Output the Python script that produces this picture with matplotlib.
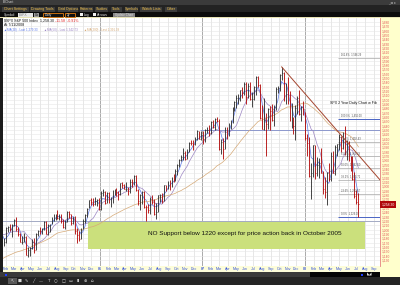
import numpy as np
import pandas as pd
import matplotlib
matplotlib.use('Agg')
import matplotlib.pyplot as plt
from matplotlib.patches import Rectangle
from matplotlib.transforms import blended_transform_factory

# weekly closes before the visible window (only used to warm up the averages)
pre_close = [1134, 1140, 1107, 1098, 1076, 1089, 1095, 1120, 1122, 1136, 1132, 1134,
             1141, 1125, 1112, 1101, 1089, 1101, 1063, 1064, 1098, 1107, 1113, 1113,
             1123, 1128, 1110, 1114, 1122, 1108, 1108, 1095, 1130, 1166, 1185, 1171,
             1182, 1191, 1189, 1194, 1210, 1212, 1186, 1184, 1167]

# weekly bars, week ending 2005-01-28 .. 2008-07-11
wk_high = [1180, 1205, 1208, 1212, 1212, 1224, 1229, 1206, 1192, 1185, 1192, 1185,
           1160, 1160, 1178, 1180, 1192, 1199, 1205, 1203, 1219, 1219, 1212, 1213,
           1229, 1237, 1237, 1245, 1237, 1235, 1224, 1222, 1243, 1242, 1237, 1230,
           1232, 1204, 1198, 1204, 1224, 1235, 1249, 1268, 1273, 1272, 1275, 1270, 1272,
           1290, 1294, 1289, 1287, 1286, 1276, 1291, 1294, 1297, 1289, 1308, 1310,
           1306, 1310, 1298, 1318, 1316, 1326, 1327, 1294, 1283, 1290, 1290, 1258,
           1259, 1276, 1280, 1270, 1262, 1280, 1283, 1284, 1303, 1303, 1312, 1315,
           1322, 1328, 1340, 1352, 1364, 1372, 1389, 1381, 1386, 1403, 1407, 1406,
           1415, 1430, 1429, 1427,
           1429, 1432, 1437, 1441, 1450, 1453, 1457, 1461, 1456, 1410, 1411, 1438,
           1437, 1446, 1453, 1484, 1498, 1510, 1513, 1522, 1529, 1540, 1540, 1538,
           1540, 1518, 1532, 1555, 1556, 1536, 1488, 1504, 1470, 1482, 1485, 1490,
           1488, 1530, 1533, 1560, 1576, 1565, 1539, 1553, 1520, 1492, 1460, 1488,
           1508, 1523, 1485, 1498,
           1471, 1421, 1415, 1355, 1396, 1395, 1368, 1366, 1388, 1336, 1321, 1334,
           1353, 1380, 1381, 1395, 1399, 1422, 1416, 1426, 1440, 1406, 1404, 1370,
           1370, 1333, 1292, 1285]
wk_low = [1163, 1170, 1195, 1198, 1184, 1208, 1198, 1185, 1171, 1166, 1171, 1141,
          1137, 1140, 1156, 1146, 1154, 1185, 1191, 1191, 1200, 1189, 1188, 1195,
          1212, 1220, 1223, 1225, 1222, 1216, 1204, 1201, 1218, 1228, 1210, 1212,
          1190, 1168, 1174, 1178, 1202, 1216, 1230, 1250, 1258, 1255, 1258, 1255, 1246,
          1245, 1278, 1260, 1261, 1261, 1253, 1261, 1281, 1278, 1268, 1280, 1296,
          1293, 1290, 1280, 1285, 1298, 1302, 1290, 1256, 1245, 1260, 1250, 1219,
          1238, 1235, 1260, 1234, 1224, 1240, 1265, 1262, 1266, 1289, 1294, 1292,
          1298, 1310, 1313, 1327, 1345, 1358, 1362, 1360, 1364, 1379, 1396, 1383,
          1396, 1406, 1410, 1408,
          1397, 1403, 1424, 1416, 1420, 1436, 1431, 1448, 1384, 1374, 1364, 1386,
          1410, 1417, 1433, 1447, 1474, 1480, 1490, 1498, 1505, 1510, 1490, 1505,
          1500, 1484, 1500, 1512, 1530, 1455, 1432, 1430, 1370, 1433, 1430, 1452,
          1440, 1476, 1516, 1520, 1546, 1497, 1490, 1491, 1450, 1435, 1420, 1406,
          1468, 1466, 1452, 1466,
          1406, 1370, 1322, 1270, 1322, 1317, 1325, 1320, 1330, 1282, 1272, 1256,
          1312, 1312, 1330, 1326, 1370, 1383, 1379, 1386, 1373, 1362, 1358, 1335,
          1315, 1272, 1260, 1229]
wk_close = [1171, 1203, 1205, 1201, 1211, 1222, 1201, 1190, 1172, 1172, 1182, 1142,
            1152, 1157, 1172, 1154, 1189, 1198, 1196, 1201, 1217, 1191, 1211, 1212,
            1228, 1233, 1234, 1226, 1230, 1220, 1205, 1218, 1241, 1237, 1215, 1229,
            1196, 1187, 1179, 1199, 1220, 1234, 1248, 1268, 1265, 1259, 1267, 1268, 1248,
            1285, 1287, 1261, 1284, 1264, 1267, 1287, 1289, 1287, 1282, 1307, 1302,
            1295, 1295, 1289, 1311, 1310, 1325, 1292, 1267, 1280, 1288, 1253, 1252,
            1245, 1270, 1265, 1236, 1240, 1279, 1280, 1266, 1302, 1296, 1311, 1299,
            1320, 1314, 1336, 1350, 1362, 1368, 1378, 1364, 1380, 1401, 1400, 1397,
            1409, 1427, 1410, 1418,
            1409, 1430, 1431, 1423, 1449, 1438, 1456, 1451, 1387, 1402, 1386, 1436,
            1421, 1443, 1452, 1484, 1494, 1505, 1505, 1522, 1515, 1536, 1507, 1533,
            1502, 1503, 1530, 1552, 1534, 1458, 1433, 1453, 1445, 1479, 1474, 1453,
            1484, 1525, 1527, 1557, 1561, 1500, 1535, 1509, 1453, 1458, 1440, 1481,
            1504, 1467, 1484, 1478,
            1411, 1401, 1325, 1330, 1395, 1331, 1349, 1353, 1331, 1294, 1288, 1330,
            1316, 1370, 1332, 1390, 1398, 1414, 1388, 1426, 1375, 1400, 1361, 1360,
            1318, 1278, 1263, 1258.30]

ma_weeks = [4, 10, 40]          # ~20, 50 and 200 trading days
ma_names = ['MA(20)', 'MA(50)', 'MA(200)']
ma_colors = ['#5b78e8', '#9c86c4', '#d6aa78']

support = 1220
support_start = '2005-01-01'
resist = 1430
resist_start = '2006-12-22'
fib_hi, fib_lo = 1456, 1229
fib_levels = [0.0, 23.6, 38.2, 50.0, 61.8, 76.4, 100.0, 161.8]
fib_start = '2008-04-27'
trend_end = ('2008-09-24', 1315)
box_x = ('2005-11-19', '2008-08-01')
box_y = (1155, 1220)

W, H = 400, 285
fig = plt.figure(figsize=(W / 100, H / 100), dpi=100)
plt.rcParams['font.family'] = ['Liberation Sans', 'DejaVu Sans']


def fx(x):
    return x / W


def fy(y):
    return 1 - y / H


def box(x, y, w, h, color, **kw):
    fig.add_artist(Rectangle((fx(x), fy(y + h)), w / W, h / H, transform=fig.transFigure,
                             fc=color, ec=kw.pop('ec', 'none'), lw=kw.pop('lw', 0.5),
                             zorder=kw.pop('zorder', -5), **kw))


def ftext(x, y, s, **kw):
    fig.text(fx(x), fy(y), s, va='center', **kw)


# window chrome
box(0, 0, 400, 5, '#3b3b3b')
box(0, 5, 400, 8, '#232323')
box(0, 12, 400, 6, '#0c0c0c')
box(0, 17, 400, 1.2, '#e8e3b4')
box(0, 18, 3, 254, '#1b1b1b')
box(380, 18, 20, 259, '#ffffcc')
box(3, 266, 377, 6, '#fdfdda')
box(0, 272, 310, 5, '#3a3a3a')
box(310, 272, 70, 5, '#050505')
box(0, 277, 400, 8, '#242424')
box(5, 273.5, 2, 2, '#2040ff')
box(361, 273.5, 2, 2, '#2040ff')
box(8, 278, 9, 6, '#585858')
ftext(3, 2.4, 'IBChart', fontsize=2.4, color='#d0d0d0')
ftext(388, 2.4, '_ \u25a1 x', fontsize=2.4, color='#d0d0d0')

menu = [('Chart Settings', 2, 27), ('Drawing Tools', 30, 25), ('Grid Options', 58, 20),
        ('Patterns', 80, 13), ('Studies', 95, 13), ('Tools', 111, 11),
        ('Symbols', 125, 13), ('Watch Lists', 140, 22), ('Other', 165, 12)]
for name, x0, w in menu:
    box(x0, 6.5, w, 5, '#3c3c3c', zorder=-4)
    ftext(x0 + w / 2, 9, name, fontsize=2.6, color='#f2c14a', ha='center')

ftext(4, 14.8, 'Symbol:', fontsize=2.4, color='#e0e0e0')
box(18, 13, 15, 3.8, '#e8e8e8', zorder=-4)
ftext(19, 14.8, '\\$SPX', fontsize=2.4, color='#777777')
box(34, 13, 5, 3.8, '#9a9a9a', zorder=-4)
ftext(36.5, 14.8, 'Go', fontsize=2.2, color='#111111', ha='center')
box(43, 13, 20, 3.8, '#111111', ec='#e07a10', lw=0.6, zorder=-4)
ftext(45, 14.8, 'Daily', fontsize=2.3, color='#e0e0e0')
box(65, 13, 10, 3.8, '#111111', ec='#e07a10', lw=0.6, zorder=-4)
ftext(67, 14.8, '2y', fontsize=2.3, color='#e0e0e0')
box(80, 13.3, 3, 3, '#f0f0f0', zorder=-4)
ftext(84, 14.8, 'Log', fontsize=2.5, color='#e0e0e0')
box(93, 13.3, 3, 3, '#f0f0f0', zorder=-4)
ftext(97, 14.8, 'Arrows', fontsize=2.5, color='#e0e0e0')
box(113, 13, 22, 3.8, '#8a8a8a', zorder=-4)
ftext(124, 14.8, 'Update Chart', fontsize=2.2, color='#dddddd', ha='center')

icons = ['\u2196', '\u25a0', '\u270e', '\u2571', '\u2014', 'T', '\u25cb', '\u25a1',
         '\u25ad', '\u25ae', '\u2295', '\u2302']
for i, ic in enumerate(icons):
    ftext(12 + i * 7.3, 281, ic, fontsize=3, color='#d8d8d8', ha='center', family='DejaVu Sans')
ftext(367, 274.7, '\u25e3\u25e2', fontsize=2.6, color='#dddddd', family='DejaVu Sans')

# price panel
ax = fig.add_axes([fx(3), fy(266), (380 - 3) / W, (266 - 18) / H])
ax.set_facecolor('white')

all_close = pd.Series(pre_close + wk_close, dtype=float)
all_dates = pd.date_range(end='2008-07-11', periods=len(all_close), freq='W-FRI') - pd.Timedelta(days=2)
n0 = len(pre_close)
dates = all_dates[n0:]
close = np.array(wk_close, dtype=float)
prev = all_close.shift(1).to_numpy()[n0:]
up = close >= prev
bar_col = np.where(up, '#262626', '#b00000')

ax.vlines(dates, wk_low, wk_high, colors=bar_col, lw=0.6, zorder=4)
ax.hlines(close, dates, dates + pd.Timedelta(days=3), colors=bar_col, lw=0.45, zorder=4)

last_ma = []
for wks, col in zip(ma_weeks, ma_colors):
    ma = all_close.rolling(wks, min_periods=1).mean().to_numpy()
    ax.plot(all_dates, ma, color=col, lw=0.5, zorder=3)
    last_ma.append(ma[-1])

x0, x1 = pd.Timestamp('2005-01-21'), pd.Timestamp('2008-09-24')
ax.set_xlim(x0, x1)
ax.set_ylim(1116, 1689)

# support line + green box with note
ax.hlines(support, pd.Timestamp(support_start), x1, color='#a3aac4', lw=0.7, zorder=2.5)
ax.hlines(resist, pd.Timestamp(resist_start), x1, color='#8c98cc', lw=0.7, zorder=2.5)
bx0, bx1 = pd.Timestamp(box_x[0]), pd.Timestamp(box_x[1])
ax.add_patch(Rectangle((bx0, box_y[0]), bx1 - bx0, box_y[1] - box_y[0],
                       fc='#cbe07c', ec='none', zorder=2))
ax.text(pd.Timestamp('2007-06-01'), 1190,
        'NO Support below 1220 except for price action back in October 2005',
        fontsize=4.6, ha='center', va='center', color='#111111', zorder=5)

# down trend line from the top
i_top = int(np.argmax(wk_high))
ax.plot([dates[i_top], pd.Timestamp(trend_end[0])], [wk_high[i_top], trend_end[1]],
        color='#a4452e', lw=0.7, zorder=5, clip_on=True)

# fib retracement
fs = pd.Timestamp(fib_start)
for lev in fib_levels:
    p = fib_lo + (fib_hi - fib_lo) * lev / 100
    blue = lev in (0.0, 100.0)
    ax.hlines(p, fs, x1, color='#4a64c4' if blue else '#a8a8a8', lw=0.7 if blue else 0.5, zorder=3)
    ax.text(fs + pd.Timedelta(days=10), p + 3, f'{lev:.1f}%  {p:,.2f}', fontsize=1.9,
            color='#555555', va='bottom', zorder=5)

ax.text(pd.Timestamp('2008-03-29'), 1493, 'SPX 2 Year Daily Chart w Fib', fontsize=2.6,
        color='#111111', va='center', clip_on=True, zorder=6)

# grid
months = pd.date_range('2005-02-01', '2008-09-01', freq='MS')
ax.set_xticks(months)
ax.set_xticklabels([f'{m:%y}' if m.month == 1 else f'{m:%b}' for m in months])
for m in months:
    ax.axvline(m, color='#a9a9a9' if m.month == 1 else '#dddddd',
               lw=0.7 if m.month == 1 else 0.5, zorder=1)
for lab, m in zip(ax.get_xticklabels(), months):
    if m.month == 1:
        lab.set_fontweight('bold')
yt = np.arange(1130, 1690, 10)
ax.set_yticks(yt)
# the last-price tag sits over the scale, so leave its slot free
ax.set_yticklabels(['' if abs(v - close[-1]) < 8 else f'{v:,.0f}' for v in yt])
for v in yt:
    ax.axhline(v, color='#e6e6e6', lw=0.4, zorder=1)
ax.yaxis.tick_right()
ax.tick_params(axis='x', length=0, pad=0.6, labelsize=2.6, labelcolor='#3552d8')
ax.tick_params(axis='y', length=0, pad=1.2, labelsize=2.3, labelcolor='#e25c5c')
for side in ['left', 'top', 'bottom']:
    ax.spines[side].set_visible(False)
ax.spines['right'].set_color('#e48080')
ax.spines['right'].set_linewidth(0.6)

# last price tag on the scale
tr = blended_transform_factory(ax.transAxes, ax.transData)
ax.text(1.004, close[-1], f'{close[-1]:,.2f}', transform=tr, fontsize=2.4, color='white',
        va='center', ha='left', clip_on=False, zorder=7,
        bbox=dict(fc='#b00808', ec='none', pad=0.9))

# header lines
chg = close[-1] - 1269.88
ftext(4, 21, '\\$SPX S&P 500 Index  1,258.30', fontsize=2.6, color='#111111')
ftext(55, 21, f'{chg:.2f}  {chg / 1269.88 * 100:.2f}%', fontsize=2.6, color='#e02020')
ftext(4, 25.3, 'At 7/11/2008', fontsize=2.6, color='#111111')
for i, (name, col, v) in enumerate(zip(ma_names, ma_colors, last_ma)):
    ftext(4 + i * 40, 29.5, f'\u25b2{name} - Last {v:,.2f}', fontsize=2.2, color=col)

fig.savefig('out.png', dpi=100)
